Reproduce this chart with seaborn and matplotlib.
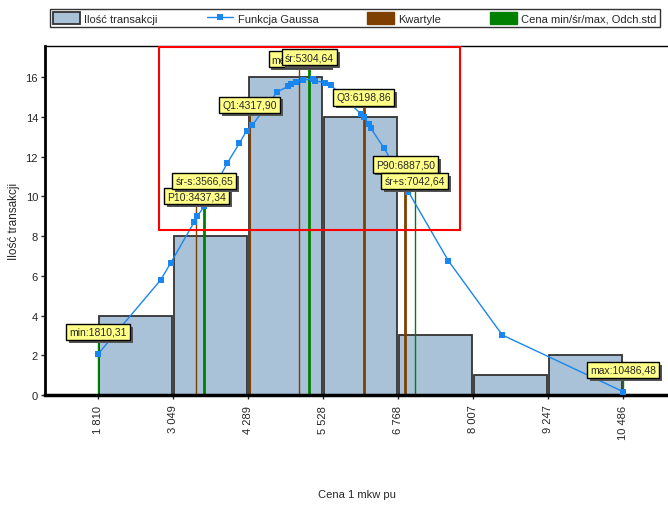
import matplotlib
matplotlib.use("Agg")
import matplotlib.pyplot as plt
import matplotlib.patheffects as pe
from matplotlib.patches import Rectangle, Patch
from matplotlib.lines import Line2D
import seaborn as sns
import numpy as np

# histogram
bin_edges = [1810.31, 3049.76, 4289.21, 5528.66, 6768.11, 8007.56, 9247.01, 10486.48]
counts = [4, 8, 16, 14, 3, 1, 2]
tick_labels = ["1 810", "3 049", "4 289", "5 528", "6 768", "8 007", "9 247", "10 486"]

# gauss curve points
gauss_x = [1810, 2846, 3011, 3397, 3451, 3562, 3947, 4145, 4267, 4360, 4773, 4955,
           4994, 5082, 5203, 5368, 5401, 5561, 5656, 6156, 6211, 6283, 6317, 6541,
           6938, 7599, 8491, 10486]
gauss_y = [2.06, 5.79, 6.64, 8.69, 8.99, 9.49, 11.67, 12.66, 13.30, 13.58, 15.26, 15.53,
           15.65, 15.76, 15.86, 15.90, 15.81, 15.70, 15.60, 14.14, 13.97, 13.63, 13.43, 12.41,
           10.23, 6.76, 3.02, 0.17]

# statistics (name, value)
quart_names = ["P10", "Q1", "me", "Q3", "P90"]
quart_values = [3437.34, 4317.90, 5135.00, 6198.86, 6887.50]
price_names = ["min", "śr-s", "śr", "śr+s", "max"]
price_values = [1810.31, 3566.65, 5304.64, 7042.64, 10486.48]

# label heights / line widths (style)
quart_label_y = [10.0, 14.6, 16.9, 14.97, 11.6]
quart_lw = [1, 1.5, 1, 2, 2]
price_label_y = [3.17, 10.77, 17.0, 10.77, 1.26]
price_lw = [1, 2, 2, 1, 1]

zoom_box = (2818, 8.3, 7792, 17.5)

BAR = "#a9c2d8"
BLUE = "#1a86f0"
BROWN = "#7f3f00"
GREEN = "#008000"

sns.set_style("white")
plt.rcParams["font.family"] = ["Liberation Sans", "DejaVu Sans"]

fig = plt.figure(figsize=(6.68, 5.06), dpi=100)
ax = fig.add_axes([45 / 668, 110 / 506, 623 / 668, 349 / 506])

centers = [(bin_edges[i] + bin_edges[i + 1]) / 2 for i in range(len(counts))]
sns.histplot(x=centers, weights=counts, bins=bin_edges, shrink=0.97,
             color=BAR, alpha=1, edgecolor="#333333", linewidth=1.3, ax=ax, zorder=1)

sns.lineplot(x=gauss_x, y=gauss_y, color=BLUE, marker="s", markersize=4,
             markeredgewidth=0, linewidth=1, ax=ax, zorder=3)


def fmt(v):
    return f"{v:.2f}".replace(".", ",")


def label(x, y, text):
    t = ax.text(x, y, text, ha="center", va="center", fontsize=7.5, zorder=6,
                bbox=dict(boxstyle="square,pad=0.3", fc="#ffff88", ec="black", lw=1))
    t.get_bbox_patch().set_path_effects(
        [pe.SimplePatchShadow(offset=(2, -2), shadow_rgbFace="#555555", alpha=1), pe.Normal()])


for n, v, ly, lw in zip(quart_names, quart_values, quart_label_y, quart_lw):
    ax.vlines(v, 0, ly, color=BROWN, lw=lw, zorder=2)
for n, v, ly, lw in zip(price_names, price_values, price_label_y, price_lw):
    ax.vlines(v, 0, ly, color=GREEN, lw=lw, zorder=2)
for n, v, ly in zip(quart_names, quart_values, quart_label_y):
    label(v, ly, f"{n}:{fmt(v)}")
for n, v, ly in zip(price_names, price_values, price_label_y):
    label(v, ly, f"{n}:{fmt(v)}")

ax.add_patch(Rectangle((zoom_box[0], zoom_box[1]), zoom_box[2] - zoom_box[0],
                       zoom_box[3] - zoom_box[1], fill=False, ec="red", lw=1.5, zorder=7))

ax.set_xlim(934, 11230)
ax.set_ylim(0, 17.56)
ax.set_xticks(bin_edges)
ax.set_xticklabels(tick_labels, rotation=90, fontsize=8)
ax.set_yticks(range(0, 17, 2))
ax.set_yticklabels([str(v) for v in range(0, 17, 2)], fontsize=8)
ax.tick_params(axis="both", length=3, width=1, pad=2, direction="out")
ax.tick_params(axis="y", left=True)
ax.tick_params(axis="x", bottom=True, pad=4)
ax.set_xlabel("Cena 1 mkw pu", fontsize=8, labelpad=36)
ax.set_ylabel("Ilość transakcji", fontsize=8.5, labelpad=4)

for s in ax.spines.values():
    s.set_color("black")
ax.spines["left"].set_linewidth(2)
ax.spines["bottom"].set_linewidth(2.5)
ax.spines["top"].set_linewidth(1)
ax.spines["right"].set_visible(False)

handles = [
    Patch(fc=BAR, ec="#333333", lw=1.3),
    Line2D([], [], color=BLUE, marker="s", markersize=4, markeredgewidth=0, lw=1),
    Patch(fc=BROWN, ec=BROWN),
    Patch(fc=GREEN, ec=GREEN),
]
names = ["Ilość transakcji", "Funkcja Gaussa", "Kwartyle", "Cena min/śr/max, Odch.std"]
leg = fig.legend(handles, names, loc="lower left", ncol=4, mode="expand",
                 bbox_to_anchor=(50 / 668, 478 / 506, 610 / 668, 22 / 506),
                 fontsize=8, frameon=True, fancybox=False, handlelength=2.4,
                 handleheight=1.2, handletextpad=0.4, borderpad=0.3, borderaxespad=0)
leg.get_frame().set_edgecolor("black")
leg.get_frame().set_linewidth(1)

fig.savefig("out.png", dpi=100)
